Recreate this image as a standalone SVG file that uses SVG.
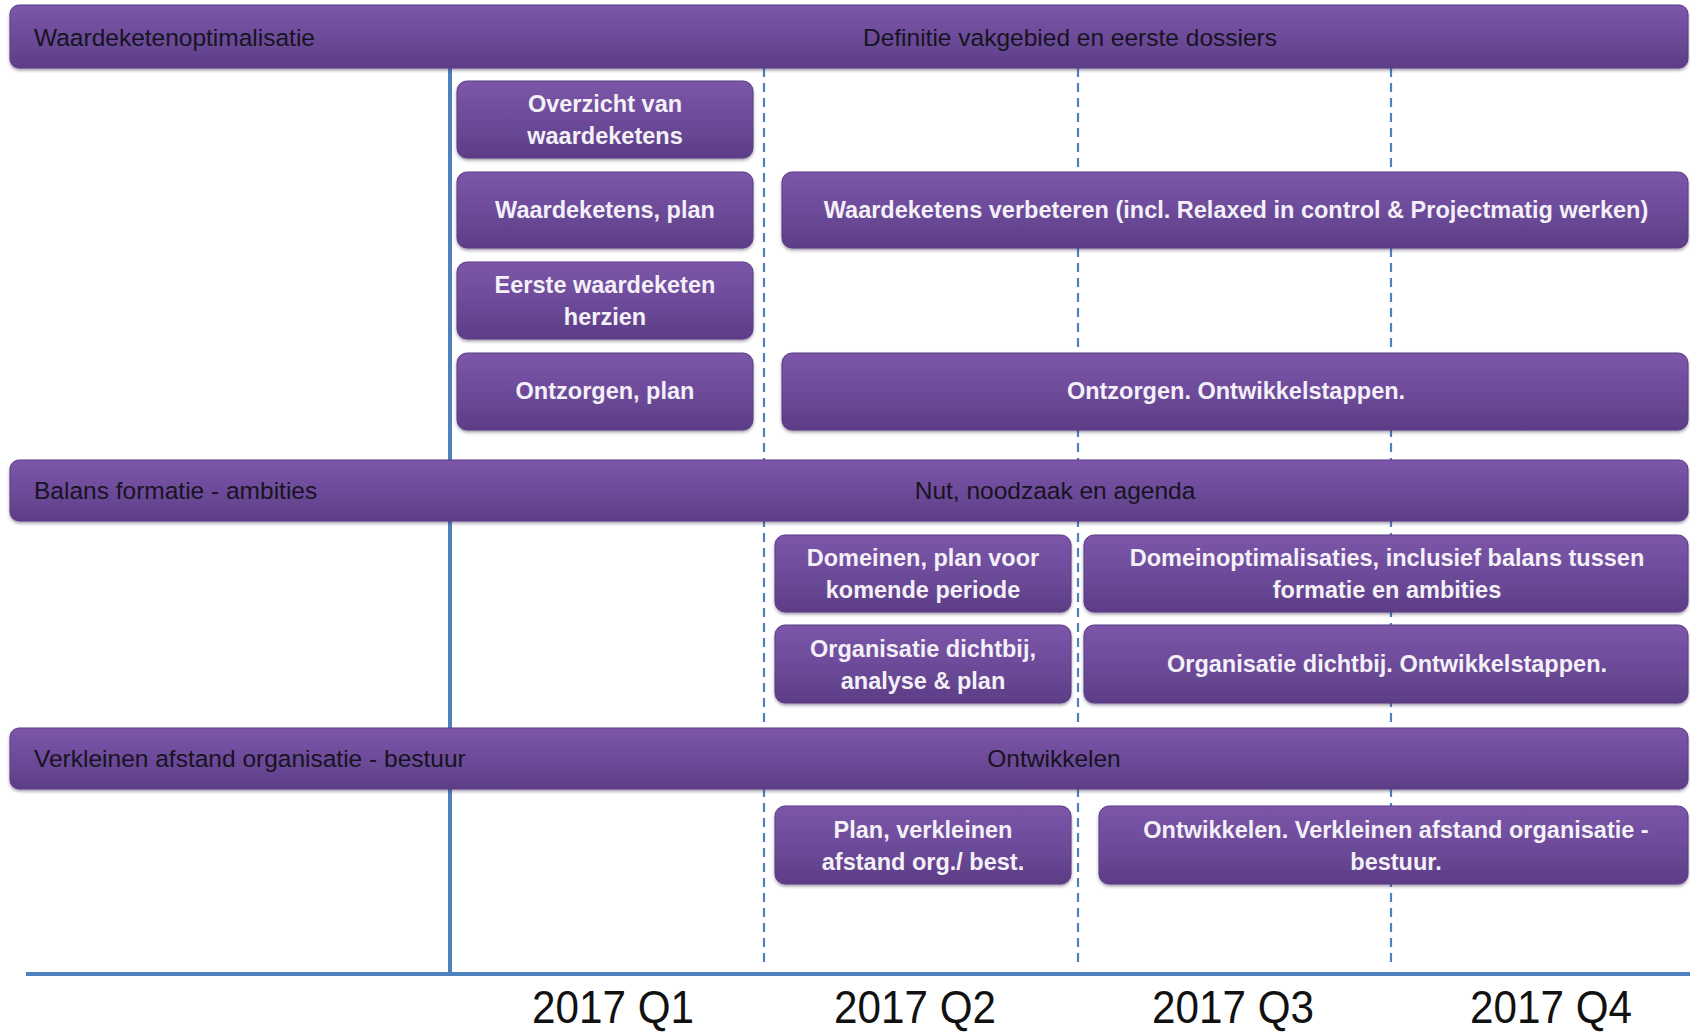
<svg xmlns="http://www.w3.org/2000/svg" width="1690" height="1034" viewBox="0 0 1690 1034">
<defs>
<linearGradient id="pg" x1="0" y1="0" x2="0" y2="1">
<stop offset="0" stop-color="#7C56A9"/>
<stop offset="0.5" stop-color="#6D4B9A"/>
<stop offset="1" stop-color="#5C3D86"/>
</linearGradient>
<filter id="sh" x="-5%" y="-20%" width="110%" height="150%">
<feDropShadow dx="0" dy="2" stdDeviation="1.5" flood-color="#3a2a55" flood-opacity="0.45"/>
</filter>
</defs>
<style>
.bar{fill:url(#pg);stroke:#5A3C84;stroke-width:1;filter:url(#sh)}
.box{fill:url(#pg);stroke:#5A3C84;stroke-width:1;filter:url(#sh)}
.bt{font-family:"Liberation Sans",Arial,sans-serif;font-size:24.5px;fill:#17141f;dominant-baseline:central}
.wt{font-family:"Liberation Sans",Arial,sans-serif;font-size:23.5px;font-weight:bold;fill:#F4F0F8;text-anchor:middle;dominant-baseline:central}
.ax{font-family:"Liberation Sans",Arial,sans-serif;font-size:46px;fill:#111;text-anchor:middle}
.dash{stroke:#4F81BD;stroke-width:2.2;stroke-dasharray:9 6;fill:none}
.solid{stroke:#4F81BD;stroke-width:4;fill:none}
</style>
<rect width="1690" height="1034" fill="#ffffff"/>
<g id="connectors">
<line class="solid" x1="450" y1="66" x2="450" y2="973"/>
<line class="dash" x1="764" y1="68" x2="764" y2="965"/>
<line class="dash" x1="1078" y1="68" x2="1078" y2="965"/>
<line class="dash" x1="1391" y1="68" x2="1391" y2="965"/>
<line class="solid" x1="26" y1="974" x2="1690" y2="974"/>
</g>
<g id="bar1">
<rect class="bar" x="10" y="5" width="1678" height="63" rx="9"/>
<text class="bt" x="34" y="37">Waardeketenoptimalisatie</text>
<text class="bt" x="1070" y="37" text-anchor="middle">Definitie vakgebied en eerste dossiers</text>
</g>
<g id="bar2">
<rect class="bar" x="10" y="460" width="1678" height="61" rx="9"/>
<text class="bt" x="34" y="490">Balans formatie - ambities</text>
<text class="bt" x="1055" y="490" text-anchor="middle">Nut, noodzaak en agenda</text>
</g>
<g id="bar3">
<rect class="bar" x="10" y="728" width="1678" height="61" rx="9"/>
<text class="bt" x="34" y="758">Verkleinen afstand organisatie - bestuur</text>
<text class="bt" x="1054" y="758" text-anchor="middle">Ontwikkelen</text>
</g>
<g id="n1">
<rect class="box" x="457" y="81" width="296" height="77" rx="10"/>
<text class="wt" x="605" y="104">Overzicht van</text>
<text class="wt" x="605" y="136">waardeketens</text>
</g>
<g id="n2">
<rect class="box" x="457" y="172" width="296" height="76" rx="10"/>
<text class="wt" x="605" y="210">Waardeketens, plan</text>
</g>
<g id="n3">
<rect class="box" x="457" y="262" width="296" height="77" rx="10"/>
<text class="wt" x="605" y="285">Eerste waardeketen</text>
<text class="wt" x="605" y="317">herzien</text>
</g>
<g id="n4">
<rect class="box" x="457" y="353" width="296" height="77" rx="10"/>
<text class="wt" x="605" y="391">Ontzorgen, plan</text>
</g>
<g id="n5">
<rect class="box" x="782" y="172" width="906" height="76" rx="10"/>
<text class="wt" x="1236" y="210">Waardeketens verbeteren (incl. Relaxed in control &amp; Projectmatig werken)</text>
</g>
<g id="n6">
<rect class="box" x="782" y="353" width="906" height="77" rx="10"/>
<text class="wt" x="1236" y="391">Ontzorgen. Ontwikkelstappen.</text>
</g>
<g id="n7">
<rect class="box" x="775" y="535" width="296" height="77" rx="10"/>
<text class="wt" x="923" y="558">Domeinen, plan voor</text>
<text class="wt" x="923" y="590">komende periode</text>
</g>
<g id="n8">
<rect class="box" x="775" y="625" width="296" height="78" rx="10"/>
<text class="wt" x="923" y="649">Organisatie dichtbij,</text>
<text class="wt" x="923" y="681">analyse &amp; plan</text>
</g>
<g id="n9">
<rect class="box" x="1084" y="535" width="604" height="77" rx="10"/>
<text class="wt" x="1387" y="558">Domeinoptimalisaties, inclusief balans tussen</text>
<text class="wt" x="1387" y="590">formatie en ambities</text>
</g>
<g id="n10">
<rect class="box" x="1084" y="625" width="604" height="78" rx="10"/>
<text class="wt" x="1387" y="664">Organisatie dichtbij. Ontwikkelstappen.</text>
</g>
<g id="n11">
<rect class="box" x="775" y="806" width="296" height="78" rx="10"/>
<text class="wt" x="923" y="830">Plan, verkleinen</text>
<text class="wt" x="923" y="862">afstand org./ best.</text>
</g>
<g id="n12">
<rect class="box" x="1099" y="806" width="589" height="78" rx="10"/>
<text class="wt" x="1396" y="830">Ontwikkelen. Verkleinen afstand organisatie -</text>
<text class="wt" x="1396" y="862">bestuur.</text>
</g>
<g id="axis-labels">
<text class="ax" x="613" y="1023" textLength="162" lengthAdjust="spacingAndGlyphs">2017 Q1</text>
<text class="ax" x="915" y="1023" textLength="162" lengthAdjust="spacingAndGlyphs">2017 Q2</text>
<text class="ax" x="1233" y="1023" textLength="162" lengthAdjust="spacingAndGlyphs">2017 Q3</text>
<text class="ax" x="1551" y="1023" textLength="162" lengthAdjust="spacingAndGlyphs">2017 Q4</text>
</g>
</svg>
